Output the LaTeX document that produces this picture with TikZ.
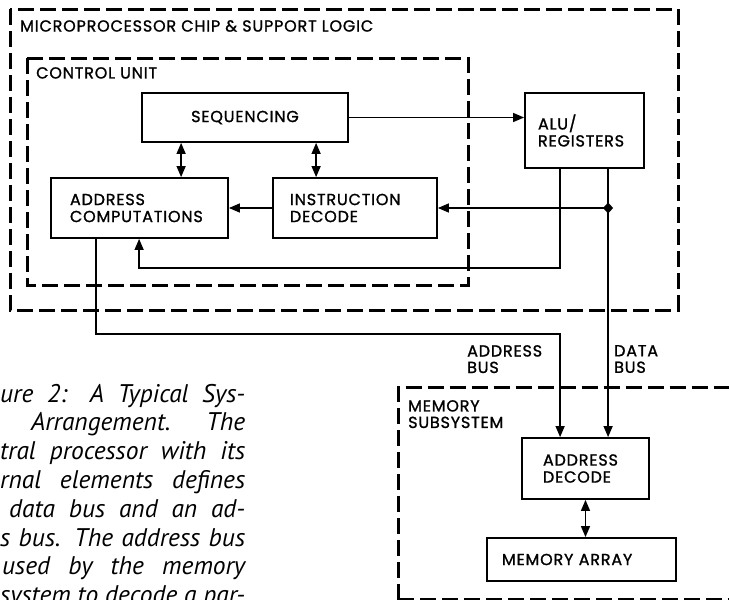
\documentclass[tikz,border=0pt]{standalone}
\usepackage{fontspec}
\usetikzlibrary{arrows.meta}
\newfontfamily\labfont[LetterSpace=5,FakeBold=1.2]{Poppins}
\newfontfamily\capfont{PT Sans}
\begin{document}
\begin{tikzpicture}[x=1pt,y=-1pt,
  box/.style={draw,line width=1.8pt,inner ysep=0pt,font=\labfont\fontsize{16}{17}\selectfont},
  lab/.style={font=\labfont\fontsize{16}{16.5}\selectfont,inner sep=0pt,align=left,anchor=north west},
  dashbox/.style={line width=3pt,dash pattern=on 16pt off 6pt},
  conn/.style={line width=1.4pt},
  tip/.style={-{Triangle[length=11pt,width=9pt]}},
  dtip/.style={{Triangle[length=11pt,width=9pt]}-{Triangle[length=11pt,width=9pt]}},
  captext/.style={font=\capfont\itshape\fontsize{25.5}{28}\selectfont,inner sep=0pt,anchor=base west}
]
\useasboundingbox[fill=white] (0,0) rectangle (729,600);

% dashed containers
\draw[dashbox] (10,9) rectangle (678,310);
\draw[dashbox] (27,58) rectangle (468,285);
\draw[dashbox] (398,599.5) -- (398,387) -- (735,387);
\draw[dashbox] (398,599.5) -- (735,599.5);

% container titles
\node[lab] (tmicro) at (20,20) {MICROPROCESSOR CHIP \& SUPPORT LOGIC};
\node[lab] (tctrl) at (36,67) {CONTROL UNIT};
\node[lab] (tmem) at (408,400) {MEMORY\\SUBSYSTEM};

% blocks
\node[box,minimum width=206pt,minimum height=49pt,align=center] (seq) at (245,117.5) {SEQUENCING};
\node[box,minimum height=60pt,inner xsep=19pt,text width=139pt,align=left] (addr) at (139.5,208) {ADDRESS\\COMPUTATIONS};
\node[box,minimum height=60pt,inner xsep=17pt,text width=130pt,align=left] (instr) at (355,208) {INSTRUCTION\\DECODE};
\node[box,minimum height=75pt,inner xsep=13pt,text width=93pt,align=left] (alu) at (584.5,130.5) {ALU/\\REGISTERS};
\node[box,minimum height=61pt,inner xsep=21pt,text width=85pt,align=left] (adec) at (585.5,468.5) {ADDRESS\\DECODE};
\node[box,minimum height=43pt,inner xsep=15pt,text width=159pt,align=left] (marr) at (581.5,559.5) {MEMORY ARRAY};

% bus labels
\node[lab] (tabus) at (467,345) {ADDRESS\\BUS};
\node[lab] (tdbus) at (614,345) {DATA\\BUS};

% connectors
\draw[conn,tip] (seq.east) -- (seq.east -| alu.west);
\draw[conn,dtip] ([xshift=40pt]seq.south west) -- ([xshift=40pt]seq.south west |- addr.north);
\draw[conn,dtip] ([xshift=175pt]seq.south west) -- ([xshift=175pt]seq.south west |- instr.north);
\draw[conn,tip] (instr.west) -- (addr.east);
\coordinate (j) at ([xshift=84pt]alu.south west |- instr.east);
\draw[conn] ([xshift=84pt]alu.south west) -- (j);
\draw[conn,tip] (j) -- (instr.east);
\draw[conn,tip] (j) -- (j |- adec.north);
\fill (j) +(0,-5.5) -- +(5,0) -- +(0,5.5) -- +(-5,0) -- cycle;
\draw[conn,tip] ([xshift=36pt]alu.south west) -- ++(0,99) -| ([xshift=89pt]addr.south west);
\draw[conn,tip] ([xshift=46pt]addr.south west) -- ++(0,95) -| ([xshift=39pt]adec.north west);
\draw[conn,dtip] (adec.south) -- (adec.south |- marr.north);

% caption fragment
\node[captext] (c1) at (0,402) {\makebox[245pt][s]{ure 2: A Typical Sys-}};
\node[captext] (c2) at (31,430.8) {\makebox[214pt][s]{Arrangement. The}};
\node[captext] (c3) at (0,459.6) {\makebox[245pt][s]{tral processor with its}};
\node[captext] (c4) at (0,488.4) {\makebox[245pt][s]{rnal elements defines}};
\node[captext] (c5) at (9,517.2) {\makebox[236pt][s]{data bus and an ad-}};
\node[captext] (c6) at (0,546) {\makebox[245pt][s]{s bus. The address bus}};
\node[captext] (c7) at (2,574.8) {\makebox[243pt][s]{used by the memory}};
\node[captext] (c8) at (0,603.6) {\makebox[245pt][s]{system to decode a par-}};
\end{tikzpicture}
\end{document}
